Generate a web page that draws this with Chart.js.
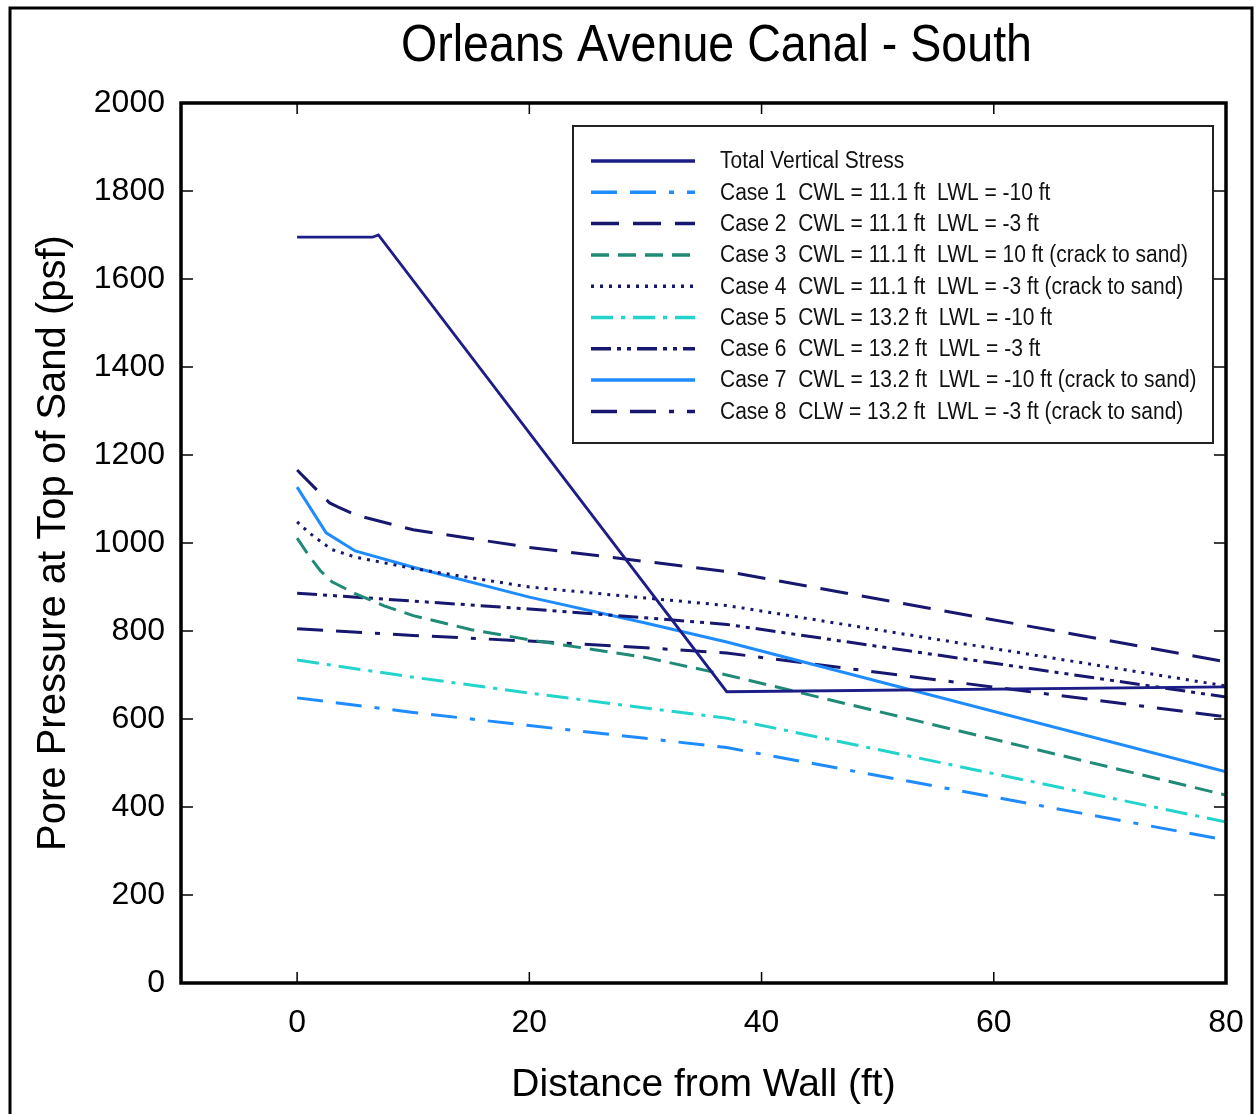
<!DOCTYPE html>
<html>
<head>
<meta charset="utf-8">
<script src="https://cdn.jsdelivr.net/npm/chart.js@4"></script>
<style>
  html, body { margin: 0; padding: 0; background: #fff; overflow: hidden; }
  #wrap { position: relative; width: 1259px; height: 1114px; }
</style>
</head>
<body>
<div id="wrap"><canvas id="chart"></canvas></div>
<script>
// Orleans Avenue Canal - South: pore pressure at top of sand vs distance from wall
const xTicks = [0, 20, 40, 60, 80];
const yTicks = [0, 200, 400, 600, 800, 1000, 1200, 1400, 1600, 1800, 2000];

const tvsX = [0, 6.5, 7, 37, 80];
const tvsY = [1695, 1695, 1700, 662, 673];

const case1X = [0, 10, 20, 30, 37, 80];
const case1Y = [648, 615, 585, 556, 535, 325];

const case2X = [0, 2.8, 3.5, 5, 10, 20, 30, 37, 80];
const case2Y = [1166, 1091, 1082, 1064, 1030, 990, 958, 935, 730];

const case3X = [0, 1, 2, 3, 5, 7.5, 10, 15, 20, 30, 37, 80];
const case3Y = [1011, 972, 937, 912, 885, 857, 835, 803, 780, 740, 700, 427];

const case4X = [0, 1, 2, 3, 5, 10, 20, 30, 37, 80];
const case4Y = [1048, 1024, 1004, 985, 968, 942, 900, 875, 858, 675];

const case5X = [0, 10, 20, 30, 37, 80];
const case5Y = [734, 695, 659, 625, 602, 366];

const case6X = [0, 10, 20, 30, 37, 80];
const case6Y = [886, 868, 850, 830, 815, 650];

const case7X = [0, 2.5, 5, 10, 20, 30, 37, 80];
const case7Y = [1127, 1023, 982, 945, 877, 818, 775, 480];

const case8X = [0, 10, 20, 30, 37, 80];
const case8Y = [805, 790, 777, 762, 750, 605];

const NAVY = "#17176f";
const BLUE = "#1e8cff";

function pts(xs, ys) {
  return xs.map((x, i) => ({ x: x, y: ys[i] }));
}

function series(label, xs, ys, color, dash, width) {
  return {
    label, data: pts(xs, ys), borderColor: color, backgroundColor: color,
    borderDash: dash, borderWidth: width || 3, showLine: true,
    pointRadius: 0, pointHoverRadius: 0, tension: 0, borderCapStyle: "butt",
  };
}

const datasets = [
  series("Total Vertical Stress", tvsX, tvsY, "#1d1d88", [], 2.8),
  series("Case 1  CWL = 11.1 ft  LWL = -10 ft", case1X, case1Y, BLUE, [26, 13, 26, 13, 5, 13]),
  series("Case 2  CWL = 11.1 ft  LWL = -3 ft", case2X, case2Y, NAVY, [28, 14]),
  series("Case 3  CWL = 11.1 ft  LWL = 10 ft (crack to sand)", case3X, case3Y, "#1f8a76", [18, 9]),
  series("Case 4  CWL = 11.1 ft  LWL = -3 ft (crack to sand)", case4X, case4Y, NAVY, [3, 6]),
  series("Case 5  CWL = 13.2 ft  LWL = -10 ft", case5X, case5Y, "#22d4cc", [22, 8, 4, 8]),
  series("Case 6  CWL = 13.2 ft  LWL = -3 ft", case6X, case6Y, NAVY, [20, 6, 4, 6, 4, 6]),
  series("Case 7  CWL = 13.2 ft  LWL = -10 ft (crack to sand)", case7X, case7Y, BLUE, []),
  series("Case 8  CLW = 13.2 ft  LWL = -3 ft (crack to sand)", case8X, case8Y, NAVY, [26, 13, 26, 13, 5, 13]),
];

const FONT = "'Liberation Sans', Arial, Helvetica, sans-serif";

// draw text squeezed horizontally (the source figure uses a narrow face)
function narrowText(ctx, text, x, y, sx) {
  ctx.save();
  ctx.translate(x, y);
  ctx.scale(sx, 1);
  ctx.fillText(text, 0, 0);
  ctx.restore();
}

// frame, inward tick marks, outer border, title and legend
const decor = {
  id: "decor",
  afterDraw(chart) {
    const { ctx, chartArea: a, scales } = chart;
    ctx.save();

    // outer figure border
    ctx.strokeStyle = "#000";
    ctx.lineWidth = 3;
    ctx.beginPath();
    ctx.moveTo(10, 1120); ctx.lineTo(10, 8); ctx.lineTo(1252, 8); ctx.lineTo(1252, 1120);
    ctx.stroke();

    // inward ticks
    ctx.lineWidth = 1.5;
    ctx.beginPath();
    xTicks.forEach((v) => {
      const px = scales.x.getPixelForValue(v);
      ctx.moveTo(px, a.bottom); ctx.lineTo(px, a.bottom - 11);
      ctx.moveTo(px, a.top); ctx.lineTo(px, a.top + 11);
    });
    yTicks.forEach((v) => {
      const py = scales.y.getPixelForValue(v);
      ctx.moveTo(a.left, py); ctx.lineTo(a.left + 12, py);
      ctx.moveTo(a.right, py); ctx.lineTo(a.right - 12, py);
    });
    ctx.stroke();

    // plot frame
    ctx.lineWidth = 3.5;
    ctx.strokeRect(a.left, a.top, a.right - a.left, a.bottom - a.top);

    // title
    ctx.fillStyle = "#000";
    ctx.font = "52px " + FONT;
    ctx.textAlign = "left";
    ctx.textBaseline = "middle";
    const title = "Orleans Avenue Canal - South";
    const tw = ctx.measureText(title).width;
    narrowText(ctx, title, 401, 47, 631 / tw);

    // legend
    const lx = a.left + 392, ly = a.top + 23, lw = 640, lh = 317;
    ctx.fillStyle = "#fff";
    ctx.fillRect(lx, ly, lw, lh);
    ctx.strokeStyle = "#222";
    ctx.lineWidth = 2;
    ctx.strokeRect(lx, ly, lw, lh);
    ctx.font = "23px " + FONT;
    const ref = ctx.measureText(chart.data.datasets[3].label).width;
    const sx = 468 / ref;
    chart.data.datasets.forEach((ds, i) => {
      const y = ly + 35 + i * 31.3;
      ctx.strokeStyle = ds.borderColor;
      ctx.lineWidth = ds.borderWidth + 0.5;
      ctx.setLineDash(ds.borderDash);
      ctx.beginPath();
      ctx.moveTo(lx + 18, y); ctx.lineTo(lx + 122, y);
      ctx.stroke();
      ctx.setLineDash([]);
      ctx.fillStyle = "#111";
      narrowText(ctx, ds.label, lx + 147, y + 1, sx);
    });
    ctx.restore();
  },
};

new Chart(document.getElementById("chart"), {
  type: "scatter",
  data: { datasets },
  options: {
    responsive: true, maintainAspectRatio: false, animation: false,
    layout: { padding: { left: 20, right: 33, top: 103, bottom: 0 } },
    plugins: { legend: { display: false }, tooltip: { enabled: false }, title: { display: false } },
    scales: {
      x: {
        type: "linear", min: -10, max: 80,
        afterBuildTicks: (s) => { s.ticks = xTicks.map((v) => ({ value: v })); },
        afterFit: (s) => { s.height = 131; s.paddingLeft = 0; s.paddingRight = 0; },
        grid: { display: false, drawTicks: false }, border: { display: false },
        ticks: { color: "#000", font: { size: 32, family: FONT }, padding: 21, maxRotation: 0, callback: (v) => String(v) },
        title: { display: true, text: "Distance from Wall (ft)", color: "#000", font: { size: 39, family: FONT }, padding: { top: 0, bottom: 5 } },
      },
      y: {
        type: "linear", min: 0, max: 2000,
        afterBuildTicks: (s) => { s.ticks = yTicks.map((v) => ({ value: v })); },
        afterFit: (s) => { s.width = 161; },
        grid: { display: false, drawTicks: false }, border: { display: false },
        ticks: { color: "#000", font: { size: 32, family: FONT }, padding: 16, callback: (v) => String(v) },
        title: { display: true, text: "Pore Pressure at Top of Sand (psf)", color: "#000", font: { size: 40, family: FONT }, padding: { top: 10, bottom: 0 } },
      },
    },
  },
  plugins: [decor],
});
</script>
</body>
</html>
